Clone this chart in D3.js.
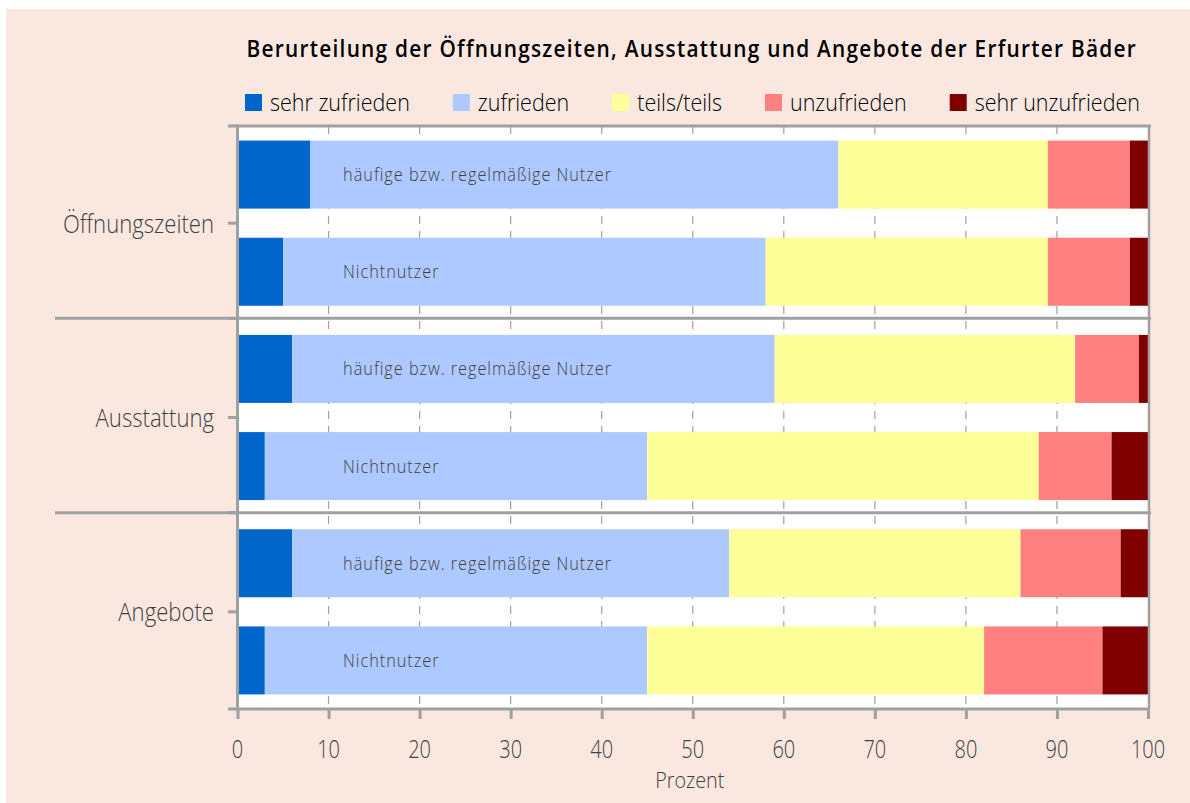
<!DOCTYPE html>
<html>
<head>
<meta charset="utf-8">
<script src="https://cdn.jsdelivr.net/npm/d3@7"></script>
<style>
  html, body { margin: 0; padding: 0; background: #ffffff; }
  svg { display: block; }
  text { font-family: "Open Sans", "Noto Sans", sans-serif; }
</style>
</head>
<body>
<svg id="chart" width="1190" height="803"></svg>
<script>
// Bewertungsbereiche (Kategorien) und Nutzergruppen je Kategorie
const categories = ["Öffnungszeiten", "Ausstattung", "Angebote"];
const userGroups = ["häufige bzw. regelmäßige Nutzer", "Nichtnutzer"];

// Antwortstufen und ihre Farben
const levels = ["sehr zufrieden", "zufrieden", "teils/teils", "unzufrieden", "sehr unzufrieden"];
const levelColors = ["#0066CC", "#ADC9FF", "#FFFF99", "#FF8080", "#800000"];

// Anteile in Prozent, Reihenfolge: Öffnungszeiten (Nutzer, Nichtnutzer),
// Ausstattung (Nutzer, Nichtnutzer), Angebote (Nutzer, Nichtnutzer)
const sehrZufrieden   = [8, 5, 6, 3, 6, 3];
const zufrieden       = [58, 53, 53, 42, 48, 42];
const teilsTeils      = [23, 31, 33, 43, 32, 37];
const unzufrieden     = [9, 9, 7, 8, 11, 13];
const sehrUnzufrieden = [2, 2, 1, 4, 3, 5];

const xTickValues = [0, 10, 20, 30, 40, 50, 60, 70, 80, 90, 100];

const titleText = "Berurteilung der Öffnungszeiten, Ausstattung und Angebote der Erfurter Bäder";
const xAxisTitle = "Prozent";

// ---------------------------------------------------------------
const svg = d3.select("#chart");
const W = 1190, H = 803;
const SX = 0.84;              // horizontal squeeze for a condensed look
const textColor = "#404040";
const axisColor = "#A0A0A0";

const plot = { left: 237.5, right: 1148, top: 126, bottom: 709 };

// rows built from the value arrays
const rows = [];
categories.forEach((cat, ci) => {
  userGroups.forEach((grp, gi) => {
    const i = ci * userGroups.length + gi;
    rows.push({
      key: cat + "|" + grp, category: cat, group: grp,
      "sehr zufrieden": sehrZufrieden[i],
      "zufrieden": zufrieden[i],
      "teils/teils": teilsTeils[i],
      "unzufrieden": unzufrieden[i],
      "sehr unzufrieden": sehrUnzufrieden[i]
    });
  });
});

const x = d3.scaleLinear().domain([0, 100]).range([plot.left, plot.right]);
const yRow = d3.scaleBand().domain(rows.map(r => r.key))
  .range([plot.top, plot.bottom]).paddingInner(0.3).paddingOuter(0.15);
const yCat = d3.scaleBand().domain(categories).range([plot.top, plot.bottom]);
const color = d3.scaleOrdinal().domain(levels).range(levelColors);

// helper for squeezed text
function label(parent, px, py, str, o) {
  o = o || {};
  return parent.append("text")
    .attr("transform", `translate(${px},${py}) scale(${o.sx || SX},1)`)
    .attr("text-anchor", o.anchor || "start")
    .attr("dominant-baseline", "central")
    .attr("font-size", o.size || 24)
    .attr("font-weight", o.weight || 300)
    .attr("letter-spacing", o.ls || 0)
    .attr("fill", o.fill || textColor)
    .text(str);
}

// background panel
svg.append("rect").attr("x", 6).attr("y", 9).attr("width", W - 6).attr("height", H - 9)
  .attr("fill", "#FAE8E0");

// plot area
svg.append("rect").attr("x", plot.left).attr("y", plot.top)
  .attr("width", plot.right - plot.left).attr("height", plot.bottom - plot.top)
  .attr("fill", "#ffffff");

// dashed vertical grid
svg.append("g").selectAll("line")
  .data(xTickValues.filter(v => v > 0 && v < 100))
  .join("line")
  .attr("x1", d => x(d)).attr("x2", d => x(d))
  .attr("y1", plot.top).attr("y2", plot.bottom)
  .attr("stroke", axisColor).attr("stroke-width", 1.2)
  .attr("stroke-dasharray", "8,7");

// stacked bars
const stacked = d3.stack().keys(levels)(rows);
svg.append("g").selectAll("g")
  .data(stacked)
  .join("g")
  .attr("fill", d => color(d.key))
  .selectAll("rect")
  .data(d => d)
  .join("rect")
  .attr("x", d => x(d[0]))
  .attr("width", d => x(d[1]) - x(d[0]))
  .attr("y", d => yRow(d.data.key))
  .attr("height", yRow.bandwidth());

// group labels inside the bars
const barLabels = svg.append("g");
rows.forEach(r => {
  label(barLabels, x(11.6), yRow(r.key) + yRow.bandwidth() / 2 - 1, r.group,
    { size: 19, ls: 1.1, sx: 0.86 });
});

// frame: top and right border
svg.append("line").attr("x1", 228).attr("x2", plot.right + 3)
  .attr("y1", plot.top).attr("y2", plot.top)
  .attr("stroke", axisColor).attr("stroke-width", 3);
svg.append("line").attr("x1", plot.right + 1).attr("x2", plot.right + 1)
  .attr("y1", plot.top).attr("y2", plot.bottom)
  .attr("stroke", axisColor).attr("stroke-width", 2.5);

// category separators reaching into the label column
svg.append("g").selectAll("line")
  .data(categories.slice(1))
  .join("line")
  .attr("x1", 55).attr("x2", plot.right + 3)
  .attr("y1", d => yCat(d) - 2).attr("y2", d => yCat(d) - 2)
  .attr("stroke", axisColor).attr("stroke-width", 3);

// left axis with ticks at category centres and boundaries
const leftTicks = categories.map(c => yCat(c) + yCat.bandwidth() / 2)
  .concat(categories.map(c => yCat(c) - 2).slice(1), [plot.bottom]);
svg.append("g").selectAll("line")
  .data(leftTicks)
  .join("line")
  .attr("x1", 228).attr("x2", plot.left)
  .attr("y1", d => d).attr("y2", d => d)
  .attr("stroke", axisColor).attr("stroke-width", 3);
svg.append("line").attr("x1", plot.left).attr("x2", plot.left)
  .attr("y1", plot.top - 1.5).attr("y2", plot.bottom + 1.5)
  .attr("stroke", axisColor).attr("stroke-width", 3);

// category labels
categories.forEach(c => {
  label(svg, 214, yCat(c) + yCat.bandwidth() / 2, c, { anchor: "end", size: 25, sx: 0.885 });
});

// bottom axis
const xAxisG = svg.append("g").attr("transform", `translate(0,${plot.bottom})`)
  .call(d3.axisBottom(x).tickValues(xTickValues).tickSize(10).tickPadding(0).tickFormat(() => ""));
xAxisG.select(".domain").attr("stroke", axisColor).attr("stroke-width", 3)
  .attr("d", `M${plot.left - 1.5},0H${plot.right + 1.5}`);
xAxisG.selectAll(".tick line").attr("stroke", axisColor).attr("stroke-width", 3);
xTickValues.forEach(v => {
  label(svg, x(v), 749, String(v), { anchor: "middle", size: 25, sx: 0.8 });
});
label(svg, (plot.left + plot.right) / 2 - 3, 780, xAxisTitle, { anchor: "middle", size: 22, sx: 0.9 });

// title
label(svg, (plot.left + plot.right) / 2 - 1, 48, titleText,
  { anchor: "middle", size: 23, weight: 600, sx: 0.905, ls: 1.4, fill: "#000000" });

// legend laid out from measured text widths
const legend = svg.append("g");
const LSX = 0.935;
let lx = 245;
levels.forEach(lv => {
  legend.append("rect").attr("x", lx).attr("y", 94).attr("width", 17).attr("height", 17)
    .attr("fill", color(lv));
  const t = label(legend, lx + 25, 102, lv, { size: 23, sx: LSX, fill: "#000000" });
  const w = t.node().getComputedTextLength() * LSX;
  lx += 25 + w + 43;
});
</script>
</body>
</html>
